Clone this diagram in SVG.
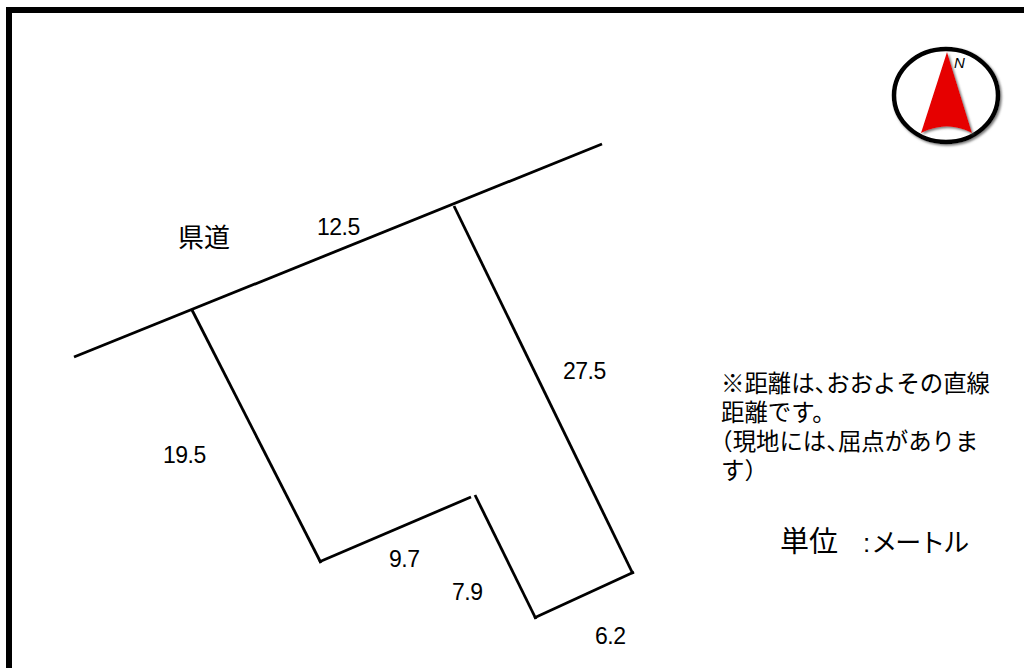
<svg xmlns="http://www.w3.org/2000/svg" width="1024" height="668" viewBox="0 0 1024 668">
<defs>
<style>
.ln{fill:none;stroke:#000;stroke-width:2.8;stroke-linecap:butt}
.t{font-family:"Liberation Sans","Noto Sans CJK JP",sans-serif;fill:#000}
.n{font-size:23px;letter-spacing:-0.500px}
.j{font-size:23.400px}
.h{font-feature-settings:"halt"}
</style>
<filter id="sh" x="-10%" y="-10%" width="125%" height="125%"><feDropShadow dx="1.5" dy="1.5" stdDeviation="0.8" flood-color="#777"/></filter>
</defs>
<rect width="1024" height="668" fill="#fff"/>
<path id="frame" d="M9 668V10H1024" fill="none" stroke="#000" stroke-width="6"/>
<g id="compass">
<ellipse cx="946" cy="95.500" rx="52" ry="46.500" fill="#fff" stroke="#000" stroke-width="4.500" filter="url(#sh)"/>
<path d="M947 52L972 133Q947 120 921 133Z" fill="#e60000" filter="url(#sh)"/>
<text class="t" x="954" y="68" font-size="15" font-style="italic">N</text>
</g>
<g id="connectors">
<path class="ln" d="M74 357L602 144"/>
<path class="ln" d="M192 310L321 563"/>
<path class="ln" d="M319 562L471 497"/>
<path class="ln" d="M475 495L536 619"/>
<path class="ln" d="M534 618L634 572"/>
<path class="ln" d="M454 206L633 574"/>
</g>
<g id="labels">
<text class="t" x="178" y="247" font-size="26">県道</text>
<text class="t n" x="317" y="235">12.5</text>
<text class="t n" x="563" y="379">27.5</text>
<text class="t n" x="163" y="463">19.5</text>
<text class="t n" x="389" y="567">9.7</text>
<text class="t n" x="452" y="600">7.9</text>
<text class="t n" x="595" y="644">6.2</text>
<text class="t j" x="721" y="392">※距離は<tspan class="h">、</tspan>おおよその直線</text>
<text class="t j" x="721" y="421">距離です。</text>
<text class="t j" x="721" y="450"><tspan class="h">（</tspan>現地には<tspan class="h">、</tspan>屈点がありま</text>
<text class="t j" x="721" y="479">す<tspan class="h">）</tspan></text>
<text class="t" x="780" y="552" font-size="29">単位</text>
<text class="t" x="863" y="552" font-size="26" letter-spacing="-2">:<tspan dx="3">メートル</tspan></text>
</g>
</svg>
